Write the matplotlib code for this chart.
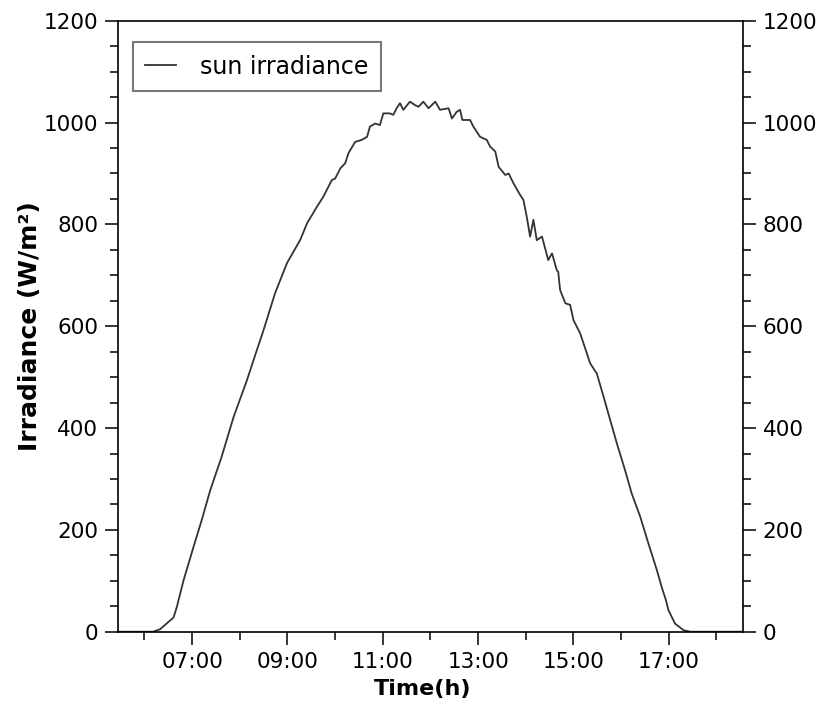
import matplotlib
matplotlib.use("Agg")
import matplotlib.pyplot as plt
from matplotlib.ticker import FixedLocator, MultipleLocator

# time of day in hours
hours = [5.45, 6.00, 6.18, 6.33, 6.61, 6.68, 6.82, 7.03, 7.20, 7.38, 7.62, 7.87,
         8.01, 8.15, 8.29, 8.50, 8.74, 8.99, 9.27, 9.41, 9.62, 9.75, 9.93,
         10.00, 10.11, 10.21, 10.28, 10.42, 10.56, 10.67, 10.73, 10.84, 10.94,
         11.01, 11.15, 11.22, 11.29, 11.36, 11.43, 11.57, 11.68, 11.75, 11.85,
         11.96, 12.10, 12.20, 12.38, 12.45, 12.55, 12.62, 12.67, 12.83, 12.90,
         13.04, 13.18, 13.25, 13.36, 13.43, 13.57, 13.64, 13.74, 13.88, 13.95,
         14.02, 14.09, 14.16, 14.23, 14.34, 14.47, 14.55, 14.65, 14.68, 14.72,
         14.83, 14.93, 15.00, 15.14, 15.28, 15.35, 15.49, 15.63, 15.77, 15.91,
         16.08, 16.22, 16.40, 16.57, 16.75, 16.85, 16.94, 16.99, 17.13, 17.31,
         17.45, 18.00, 18.55]
# sun irradiance, W/m2
irradiance = [0, 0, 0, 5, 28, 49, 101, 167, 219, 278, 344, 422,
              458, 494, 534, 593, 665, 724, 770, 802, 835, 854, 887,
              890, 910, 920, 940, 962, 966, 972, 992, 998, 995,
              1018, 1018, 1015, 1028, 1038, 1025, 1041, 1034, 1031, 1041,
              1028, 1041, 1025, 1028, 1008, 1021, 1025, 1005, 1005, 992,
              972, 966, 953, 943, 913, 897, 900, 881, 858, 848,
              815, 776, 809, 769, 776, 730, 743, 710, 707, 671,
              645, 642, 612, 586, 547, 527, 507, 462, 416, 370,
              318, 272, 226, 174, 121, 88, 62, 43, 16, 3,
              0, 0, 0]

xtick_pos = [7, 9, 11, 13, 15, 17]
xtick_labels = ["07:00", "09:00", "11:00", "13:00", "15:00", "17:00"]
series_name = "sun irradiance"

fig = plt.figure(figsize=(8.23, 7.09), dpi=100)
ax = fig.add_axes([0.1437, 0.1090, 0.9024 - 0.1437, 0.9708 - 0.1090])

ax.plot(hours, irradiance, color="#333333", lw=1.3, label=series_name)

ax.set_xlim(5.45, 18.55)
ax.set_ylim(0, 1200)

ax.xaxis.set_major_locator(FixedLocator(xtick_pos))
ax.set_xticklabels(xtick_labels)
ax.xaxis.set_minor_locator(MultipleLocator(1))
ax.yaxis.set_major_locator(MultipleLocator(200))
ax.yaxis.set_minor_locator(MultipleLocator(50))

ax.tick_params(axis="both", which="major", direction="out", length=9.5, width=1.1,
               labelsize=15.5, pad=5, colors="black")
ax.tick_params(axis="both", which="minor", direction="out", length=5.8, width=1.1)
ax.tick_params(axis="y", which="both", left=True, right=True, labelleft=True, labelright=True)
ax.tick_params(axis="x", which="both", top=False, bottom=True)

for s in ax.spines.values():
    s.set_linewidth(1.2)
    s.set_color("black")

ax.set_xlabel("Time(h)", fontsize=16, fontweight="bold", labelpad=6)
ax.xaxis.set_label_coords(0.488, -0.078)
ax.set_ylabel("Irradiance (W/m²)", fontsize=18, fontweight="bold", labelpad=1)

leg = ax.legend(loc="upper left", bbox_to_anchor=(0.0235, 0.965), borderaxespad=0,
                fontsize=17, fancybox=False, framealpha=1, edgecolor="#777777",
                handlelength=1.3, handletextpad=1.0, borderpad=0.53)
leg.get_frame().set_linewidth(1.5)

fig.savefig("out.png", dpi=100)
